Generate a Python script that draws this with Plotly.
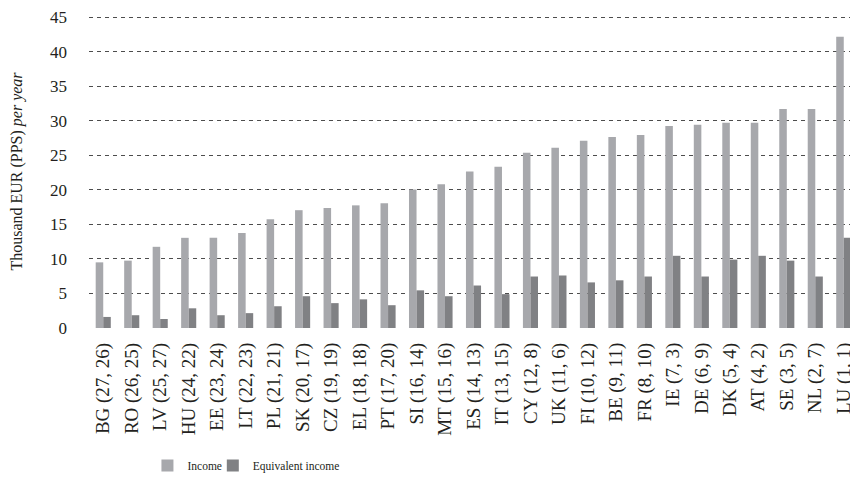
import plotly.graph_objects as go

countries = ["BG (27, 26)", "RO (26, 25)", "LV (25, 27)", "HU (24, 22)", "EE (23, 24)",
             "LT (22, 23)", "PL (21, 21)", "SK (20, 17)", "CZ (19, 19)", "EL (18, 18)",
             "PT (17, 20)", "SI (16, 14)", "MT (15, 16)", "ES (14, 13)", "IT (13, 15)",
             "CY (12, 8)", "UK (11, 6)", "FI (10, 12)", "BE (9, 11)", "FR (8, 10)",
             "IE (7, 3)", "DE (6, 9)", "DK (5, 4)", "AT (4, 2)", "SE (3, 5)",
             "NL (2, 7)", "LU (1, 1)"]

income = [9.5, 9.75, 11.75, 13.05, 13.05, 13.75, 15.75, 17.05, 17.35, 17.75,
          18.05, 20.05, 20.8, 22.65, 23.35, 25.35, 26.1, 27.1, 27.65, 27.95,
          29.25, 29.4, 29.7, 29.7, 31.7, 31.7, 42.15]

equivalent = [1.6, 1.85, 1.3, 2.85, 1.85, 2.15, 3.15, 4.6, 3.6, 4.15,
              3.3, 5.45, 4.6, 6.15, 4.9, 7.45, 7.6, 6.6, 6.9, 7.45,
              10.45, 7.45, 9.9, 10.45, 9.75, 7.45, 13.05]

y_ticks = [0, 5, 10, 15, 20, 25, 30, 35, 40, 45]

font_family = "Liberation Serif"
text_color = "#231f20"

fig = go.Figure()
fig.add_trace(go.Bar(x=countries, y=income, name="Income", marker_color="#a7a8ac",
                     marker_line_width=0, legend="legend"))
fig.add_trace(go.Bar(x=countries, y=equivalent, name="Equivalent income",
                     marker_color="#808184", marker_line_width=0, legend="legend2"))

leg_common = dict(orientation="h", y=-0.44, yanchor="middle", xanchor="left",
                  font=dict(size=11.5, family=font_family, color=text_color),
                  itemwidth=30, bgcolor="rgba(0,0,0,0)")

fig.update_layout(
    width=850, height=472,
    margin=dict(l=81, r=0, t=5, b=151),
    paper_bgcolor="white", plot_bgcolor="white",
    font=dict(family=font_family, size=14, color=text_color),
    barmode="group", bargap=0.47, bargroupgap=0,
    showlegend=True,
    legend=dict(x=0.076, **leg_common),
    legend2=dict(x=0.161, **leg_common),
)
fig.update_xaxes(
    tickangle=-90, showgrid=False, showline=False, ticks="",
    tickfont=dict(size=19, family=font_family, color=text_color),
    ticklabelstandoff=10,
    range=[-0.5, 26.5],
)
fig.update_yaxes(
    range=[0, 45.3], tickvals=y_ticks, showline=False, ticks="",
    showgrid=True, gridcolor="#4d4d4d", gridwidth=1, griddash="4px,4px",
    zeroline=False, ticklabeloverflow="allow",
    tickfont=dict(size=17, family=font_family, color=text_color),
    ticklabelstandoff=21,
    title=dict(text="Thousand EUR (PPS) <i>per year</i>", standoff=26,
               font=dict(size=16, family=font_family, color=text_color)),
)

fig.write_html("out.html")
